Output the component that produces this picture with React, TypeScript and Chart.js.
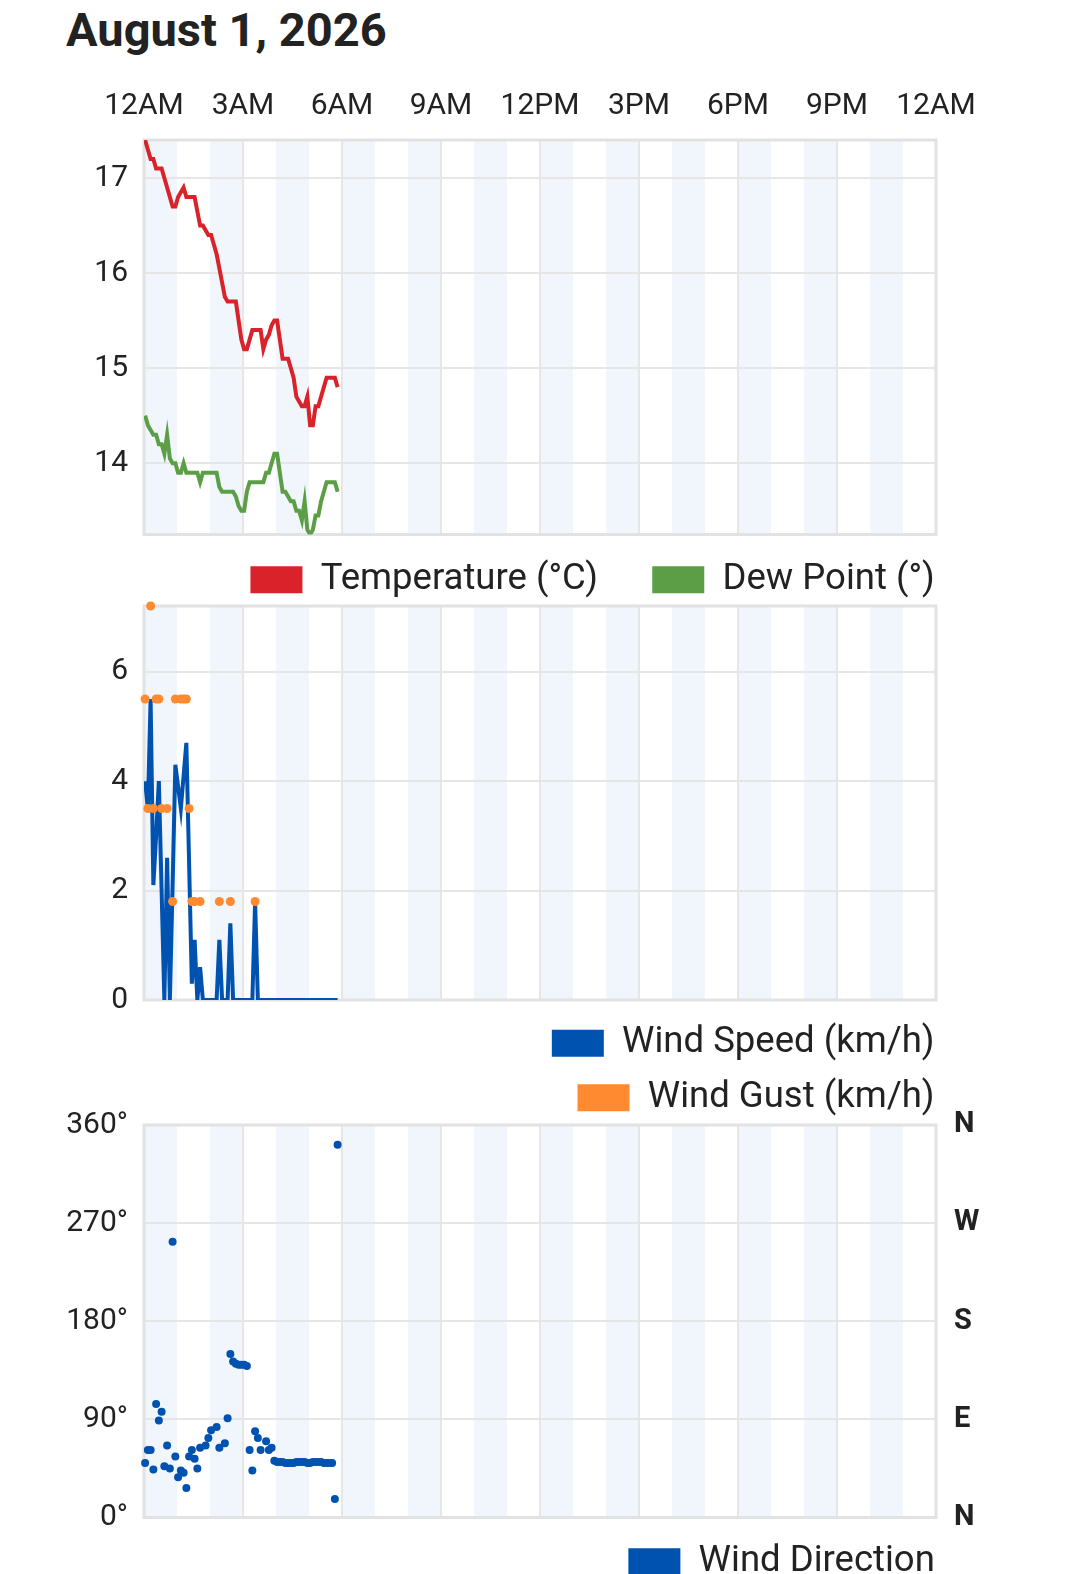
import { useEffect, useRef } from "react";
import { Chart, registerables } from "chart.js";

Chart.register(...registerables);
Chart.defaults.font.family = "Roboto";

const TEXT = "#222222";
const GRID = "#e6e6e6";
const FRAME = "#e2e2e2";
const BAND = "#f0f6fc";
const RED = "#d9222a";
const GREEN = "#5b9e46";
const BLUE = "#0052b0";
const ORANGE = "#ff8a2f";

const dayTitle = "August 1, 2026";
const hourTicks = ["12AM", "3AM", "6AM", "9AM", "12PM", "3PM", "6PM", "9PM", "12AM"];
const compass = ["N", "E", "S", "W", "N"];

// observation times, minutes after midnight
const minutes = [
  2, 7, 12, 17, 22, 27, 32, 37, 42, 47,
  52, 57, 62, 67, 72, 77, 82, 87, 92, 97,
  102, 107, 112, 117, 122, 127, 132, 137, 142, 147,
  152, 157, 162, 167, 172, 177, 182, 187, 192, 197,
  202, 207, 212, 217, 222, 227, 232, 237, 242, 247,
  252, 257, 262, 267, 272, 277, 282, 287, 292, 297,
  302, 307, 312, 317, 322, 327, 332, 337, 342, 347,
  352,
];

const temperature = [
  17.4, 17.3, 17.2, 17.2, 17.1, 17.1, 17.1, 17.0, 16.9, 16.8,
  16.7, 16.7, 16.8, 16.85, 16.9, 16.8, 16.8, 16.8, 16.8, 16.65,
  16.5, 16.5, 16.45, 16.4, 16.4, 16.3, 16.2, 16.05, 15.9, 15.75,
  15.7, 15.7, 15.7, 15.7, 15.5, 15.3, 15.2, 15.2, 15.3, 15.4,
  15.4, 15.4, 15.4, 15.2, 15.3, 15.35, 15.45, 15.5, 15.5, 15.3,
  15.1, 15.1, 15.1, 15.0, 14.9, 14.7, 14.65, 14.6, 14.6, 14.7,
  14.4, 14.4, 14.6, 14.6, 14.7, 14.8, 14.9, 14.9, 14.9, 14.9,
  14.8,
];

const dewPoint = [
  14.5, 14.4, 14.35, 14.3, 14.3, 14.2, 14.2, 14.1, 14.3, 14.05,
  14.0, 14.0, 13.9, 13.9, 14.0, 13.9, 13.9, 13.9, 13.9, 13.9,
  13.8, 13.9, 13.9, 13.9, 13.9, 13.9, 13.9, 13.75, 13.7, 13.7,
  13.7, 13.7, 13.7, 13.65, 13.55, 13.5, 13.5, 13.7, 13.8, 13.8,
  13.8, 13.8, 13.8, 13.8, 13.9, 13.9, 14.0, 14.1, 14.1, 13.9,
  13.7, 13.7, 13.65, 13.6, 13.6, 13.5, 13.5, 13.4, 13.6, 13.3,
  13.25, 13.3, 13.45, 13.45, 13.6, 13.7, 13.8, 13.8, 13.8, 13.8,
  13.7,
];

const windSpeed = [
  4.0, 3.5, 5.5, 2.1, 3.0, 4.0, 2.0, 0, 2.6, 0,
  2.1, 4.3, 3.9, 3.5, 4.1, 4.7, 2.5, 0.3, 1.1, 0,
  0.6, 0, 0, 0, 0, 0, 0, 1.1, 0, 0,
  0, 1.4, 0, 0, 0, 0, 0, 0, 0, 0,
  1.8, 0, 0, 0, 0, 0, 0, 0, 0, 0,
  0, 0, 0, 0, 0, 0, 0, 0, 0, 0,
  0, 0, 0, 0, 0, 0, 0, 0, 0, 0,
  0,
];

const windGust = [
  5.5, 3.5, 7.2, 3.5, 5.5, 5.5, 3.5, null, 3.5, null,
  1.8, 5.5, null, 5.5, 5.5, 5.5, 3.5, 1.8, 1.8, null,
  1.8, null, null, null, null, null, null, 1.8, null, null,
  null, 1.8, null, null, null, null, null, null, null, null,
  1.8, null, null, null, null, null, null, null, null, null,
  null, null, null, null, null, null, null, null, null, null,
  null, null, null, null, null, null, null, null, null, null,
  null,
];

const windDirection = [
  50, 62, 62, 44, 104, 89, 97, 47, 66, 45,
  253, 56, 37, 43, 41, 27, 56, 62, 54, 45,
  64, null, 66, 73, 80, null, 83, 64, null, 68,
  91, 150, 143, 141, 140, 140, 140, 139, 62, 43,
  79, 73, 62, null, 70, 62, 64, 52, 51, 51,
  51, 50, 50, 50, 50, 51, 51, 51, 51, 50,
  50, 51, 51, 51, 51, 50, 50, 50, 50, 17,
  342,
];

const series = (values: (number | null)[]) => minutes.map((m, i) => ({ x: m, y: values[i] }));

// alternating hour shading + frame round the plot area
const hourBands = {
  id: "hourBands",
  beforeDraw(chart: any) {
    const { ctx, chartArea: a, scales } = chart;
    ctx.save();
    ctx.fillStyle = BAND;
    for (let h = 0; h < 24; h += 2) {
      const l = scales.x.getPixelForValue(h * 60);
      const r = scales.x.getPixelForValue((h + 1) * 60);
      ctx.fillRect(l, a.top, r - l, a.bottom - a.top);
    }
    ctx.restore();
  },
  beforeDatasetsDraw(chart: any) {
    const { ctx, chartArea: a } = chart;
    ctx.save();
    ctx.strokeStyle = FRAME;
    ctx.lineWidth = 3;
    ctx.strokeRect(a.left, a.top, a.right - a.left, a.bottom - a.top);
    ctx.restore();
  },
};

function timeAxis(labels: boolean, tickLength = 5) {
  return {
    type: "linear",
    position: labels ? "top" : "bottom",
    min: 0,
    max: 1440,
    grid: { color: GRID, lineWidth: 2, drawTicks: !labels, tickLength, tickColor: "transparent" },
    border: { display: false },
    ticks: {
      display: labels,
      stepSize: 180,
      autoSkip: false,
      maxRotation: 0,
      padding: 16,
      color: TEXT,
      font: { size: 30 },
      callback: (v: number) => hourTicks[Math.round(v / 180)],
    },
    afterFit: (s: any) => {
      s.paddingLeft = 0;
      s.paddingRight = 0;
    },
  };
}

function valueAxis(min: number, max: number, step: number, width: number, fmt?: (v: number) => string) {
  return {
    position: "left",
    min,
    max,
    grid: { color: GRID, lineWidth: 2, drawTicks: false },
    border: { display: false },
    ticks: {
      stepSize: step,
      includeBounds: false,
      padding: 16,
      color: TEXT,
      font: { size: 30 },
      callback: fmt ? (v: number) => fmt(v) : undefined,
    },
    afterFit: (s: any) => {
      s.width = width;
      s.paddingTop = 0;
      s.paddingBottom = 0;
    },
  };
}

function spacerAxis(width: number) {
  return {
    type: "linear",
    position: "right",
    grid: { display: false, drawTicks: false },
    border: { display: false },
    ticks: { display: false },
    afterFit: (s: any) => {
      s.width = width;
    },
  };
}

// trailing blanks widen each legend entry to the spacing of the original legends
function legend(trail: string) {
  return {
    position: "bottom",
    align: "end",
    labels: {
      color: TEXT,
      font: { size: 36.5 },
      boxWidth: 52,
      boxHeight: 27,
      padding: 18,
      sort: (a: any, b: any) => a.datasetIndex - b.datasetIndex,
      generateLabels: (chart: any) =>
        (Chart.defaults.plugins.legend.labels as any).generateLabels(chart).map((item: any) => ({
          ...item,
          text: item.text + trail,
          lineWidth: 0,
          strokeStyle: "transparent",
        })),
    },
  };
}

function baseOptions(padLeft: number, padTop: number) {
  return {
    animation: false,
    responsive: true,
    maintainAspectRatio: false,
    events: [],
    layout: { padding: { left: padLeft, top: padTop, right: 0, bottom: 0 } },
  };
}

function temperatureConfig(): any {
  return {
    type: "line",
    data: {
      datasets: [
        { label: "Temperature (°C)", data: series(temperature), borderColor: RED, backgroundColor: RED, borderWidth: 4, pointRadius: 0 },
        { label: "Dew Point (°)", data: series(dewPoint), borderColor: GREEN, backgroundColor: GREEN, borderWidth: 4, pointRadius: 0 },
      ],
    },
    options: {
      ...baseOptions(0, 12),
      scales: {
        x: timeAxis(true),
        xb: {
          type: "linear",
          position: "bottom",
          min: 0,
          max: 1440,
          grid: { color: "transparent", drawTicks: true, tickLength: 9, tickColor: "transparent" },
          border: { display: false },
          ticks: { display: false },
        },
        y: valueAxis(Math.min(...dewPoint), Math.max(...temperature), 1, 144),
        y2: spacerAxis(53),
      },
      plugins: { legend: legend("    "), tooltip: { enabled: false } },
    },
    plugins: [hourBands],
  };
}

function windConfig(): any {
  const gusts = windGust.filter((g) => g !== null) as number[];
  return {
    type: "line",
    data: {
      datasets: [
        { label: "Wind Speed (km/h)", data: series(windSpeed), borderColor: BLUE, backgroundColor: BLUE, borderWidth: 4, pointRadius: 0, order: 1 },
        {
          label: "Wind Gust (km/h)",
          data: series(windGust),
          showLine: false,
          borderColor: ORANGE,
          backgroundColor: ORANGE,
          pointRadius: 4.5,
          pointBorderWidth: 0,
          clip: false,
          order: 0,
        },
      ],
    },
    options: {
      ...baseOptions(105, 25),
      scales: {
        x: timeAxis(false, 7),
        y: valueAxis(0, Math.max(...gusts), 2, 39),
        y2: spacerAxis(98),
      },
      plugins: { legend: legend("         "), tooltip: { enabled: false } },
    },
    plugins: [hourBands],
  };
}

function directionConfig(): any {
  return {
    type: "line",
    data: {
      datasets: [
        {
          label: "Wind Direction",
          data: series(windDirection),
          showLine: false,
          borderColor: BLUE,
          backgroundColor: BLUE,
          pointRadius: 4,
          pointBorderWidth: 0,
          clip: false,
        },
      ],
    },
    options: {
      ...baseOptions(0, 30),
      scales: {
        x: timeAxis(false, 8),
        y: valueAxis(0, 360, 90, 144, (v) => `${v}°`),
        y2: {
          position: "right",
          min: 0,
          max: 360,
          grid: { display: false, drawTicks: false },
          border: { display: false },
          ticks: {
            stepSize: 90,
            padding: 18,
            color: TEXT,
            font: { size: 29, weight: "bold" },
            callback: (v: number) => compass[Math.round(v / 90)],
          },
          afterFit: (s: any) => {
            s.width = 53;
            s.paddingTop = 0;
            s.paddingBottom = 0;
          },
        },
      },
      plugins: { legend: legend("    "), tooltip: { enabled: false } },
    },
    plugins: [hourBands],
  };
}

function ChartBox({ top, width, height, config }: { top: number; width: number; height: number; config: () => any }) {
  const canvasRef = useRef<HTMLCanvasElement | null>(null);
  useEffect(() => {
    const ctx = canvasRef.current?.getContext("2d");
    if (!ctx) return;
    const chart = new Chart(ctx, config());
    return () => chart.destroy();
  }, []);

  return (
    <div style={{ position: "absolute", left: 0, top, width, height }}>
      <canvas ref={canvasRef}></canvas>
    </div>
  );
}

export default function App() {
  return (
    <div style={{ position: "absolute", left: 0, top: 0, width: 1080, height: 1574, overflow: "hidden", background: "#fff" }}>
      <div
        style={{
          position: "absolute",
          left: 66,
          top: 6,
          font: "bold 47px Roboto",
          lineHeight: "47px",
          color: TEXT,
          whiteSpace: "nowrap",
        }}
      >
        {dayTitle}
      </div>
      <ChartBox top={60} width={989} height={548} config={temperatureConfig} />
      <ChartBox top={581} width={1034} height={545} config={windConfig} />
      <ChartBox top={1095} width={989} height={495} config={directionConfig} />
    </div>
  );
}
